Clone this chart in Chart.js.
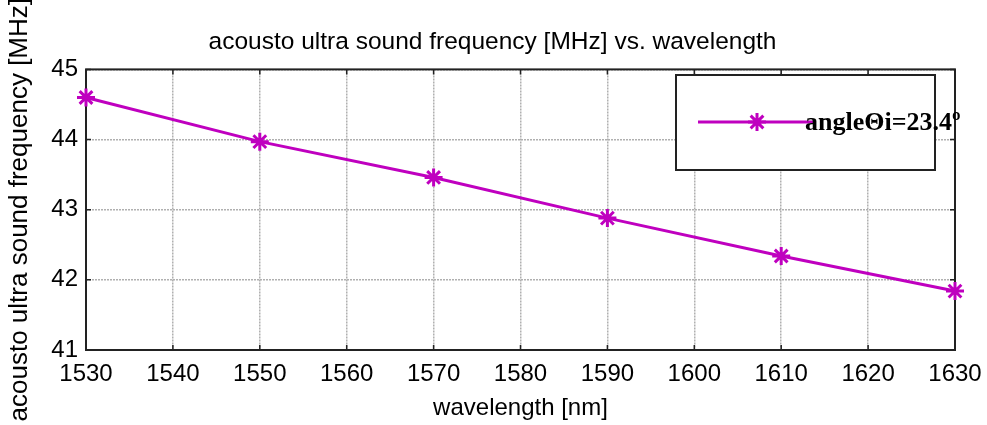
<!DOCTYPE html>
<html>
<head>
<meta charset="utf-8">
<script src="https://cdn.jsdelivr.net/npm/chart.js@4"></script>
<style>
  html, body { margin: 0; padding: 0; background: #fff; }
  #wrap { width: 987px; height: 425px; }
</style>
</head>
<body>
<div id="wrap"><canvas id="chart" width="987" height="425"></canvas></div>
<script>
// data
const wavelengths = [1530, 1550, 1570, 1590, 1610, 1630];
const frequency = [44.6, 43.97, 43.46, 42.88, 42.34, 41.84];
const seriesLabel = 'angle\u0398i=23.4\u00ba';
const xTicks = [1530, 1540, 1550, 1560, 1570, 1580, 1590, 1600, 1610, 1620, 1630];
const yTicks = [41, 42, 43, 44, 45];

const magenta = '#bf00bf';
const font = 'Liberation Sans, Arial, sans-serif';

// MATLAB style box with inward ticks, plus a legend in the upper right
const frameAndLegend = {
  id: 'frameAndLegend',
  beforeDatasetsDraw(chart) {
    const { ctx, chartArea: a, scales } = chart;
    ctx.save();
    ctx.strokeStyle = '#222';
    ctx.lineWidth = 1.5;
    xTicks.forEach(v => {
      const x = scales.x.getPixelForValue(v);
      ctx.beginPath();
      ctx.moveTo(x, a.bottom); ctx.lineTo(x, a.bottom - 5);
      ctx.moveTo(x, a.top); ctx.lineTo(x, a.top + 5);
      ctx.stroke();
    });
    yTicks.forEach(v => {
      const y = scales.y.getPixelForValue(v);
      ctx.beginPath();
      ctx.moveTo(a.left, y); ctx.lineTo(a.left + 5, y);
      ctx.moveTo(a.right, y); ctx.lineTo(a.right - 5, y);
      ctx.stroke();
    });
    ctx.lineWidth = 2;
    ctx.strokeRect(a.left, a.top, a.right - a.left, a.bottom - a.top);
    ctx.restore();
  },
  afterDatasetsDraw(chart) {
    const { ctx } = chart;
    ctx.save();
    // legend
    const lx = 676, ly = 75, lw = 259, lh = 95;
    ctx.fillStyle = '#fff';
    ctx.fillRect(lx, ly, lw, lh);
    ctx.strokeStyle = '#222';
    ctx.lineWidth = 2;
    ctx.strokeRect(lx, ly, lw, lh);
    const my = 122;
    ctx.strokeStyle = magenta;
    ctx.lineWidth = 3;
    ctx.beginPath();
    ctx.moveTo(698, my); ctx.lineTo(813, my);
    ctx.stroke();
    Chart.helpers.drawPoint(ctx, { pointStyle: 'star', radius: 9, borderWidth: 3 }, 757, my);
    ctx.fillStyle = '#000';
    ctx.font = 'bold 26px "Liberation Serif", "Times New Roman", serif';
    ctx.textBaseline = 'middle';
    ctx.fillText(chart.data.datasets[0].label, 805, my + 1);
    ctx.restore();
  }
};

new Chart(document.getElementById('chart'), {
  type: 'line',
  data: {
    labels: wavelengths,
    datasets: [{
      label: seriesLabel,
      data: wavelengths.map((w, i) => ({ x: w, y: frequency[i] })),
      borderColor: magenta,
      backgroundColor: magenta,
      borderWidth: 3,
      pointStyle: 'star',
      pointRadius: 9,
      pointBorderWidth: 3,
      pointBorderColor: magenta,
      tension: 0,
      fill: false,
      clip: false
    }]
  },
  options: {
    responsive: false,
    animation: false,
    layout: { padding: { left: 0, right: 2, top: 0, bottom: 0 } },
    plugins: {
      legend: { display: false },
      tooltip: { enabled: false },
      title: {
        display: true,
        text: 'acousto ultra sound frequency [MHz] vs. wavelength',
        color: '#000',
        font: { family: font, size: 24.5, weight: 'normal' },
        padding: { top: 28, bottom: 12 }
      }
    },
    scales: {
      x: {
        type: 'linear',
        min: 1530,
        max: 1630,
        afterBuildTicks: s => { s.ticks = xTicks.map(v => ({ value: v })); },
        afterFit: s => { s.height = 75; s.paddingLeft = 0; s.paddingRight = 32; },
        ticks: { color: '#000', font: { family: font, size: 24 }, padding: 10, maxRotation: 0, autoSkip: false,
                 callback: v => String(v) },
        grid: { color: '#b0b0b0', drawTicks: false, lineWidth: 1.5 },
        border: { display: false, dash: [2, 1] },
        title: {
          display: true,
          text: 'wavelength [nm]',
          color: '#000',
          font: { family: font, size: 24 },
          padding: { top: 0, bottom: 2 }
        }
      },
      y: {
        min: 41,
        max: 45,
        afterBuildTicks: s => { s.ticks = yTicks.map(v => ({ value: v })); },
        afterFit: s => { s.width = 86; },
        ticks: { color: '#000', font: { family: font, size: 24 }, padding: 8, callback: v => String(v) },
        grid: { color: '#b0b0b0', drawTicks: false, lineWidth: 1.5 },
        border: { display: false, dash: [2, 1] },
        title: {
          display: true,
          text: 'acousto ultra sound frequency [MHz]',
          color: '#000',
          font: { family: font, size: 26 },
          padding: { top: 4, bottom: 0 }
        }
      }
    }
  },
  plugins: [frameAndLegend]
});
</script>
</body>
</html>
